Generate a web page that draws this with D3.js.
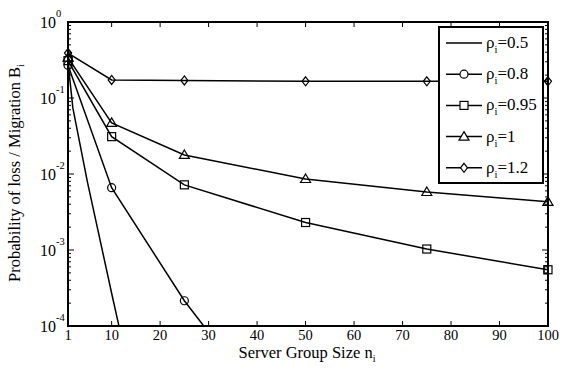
<!DOCTYPE html>
<html>
<head>
<meta charset="utf-8">
<script src="https://cdn.jsdelivr.net/npm/d3@7"></script>
<style>
  body { margin: 0; background: #fff; }
  text { font-family: "Liberation Serif", "Times New Roman", serif; fill: #000; }
</style>
</head>
<body>
<div id="chart"></div>
<script>
// values
var serverSizes = [1, 10, 25, 50, 75, 100];
var rho05X = [1, 2, 5, 10, 15];
var rho05Y = [0.30, 0.074, 0.0079, 0.00027, 0.00001];
var rho08Y = [0.27, 0.0066, 0.000215, 0.0000018];
var rho095Y = [0.31, 0.031, 0.0072, 0.0023, 0.00103, 0.00055];
var rho1Y = [0.34, 0.047, 0.0178, 0.0086, 0.0058, 0.0043];
var rho12Y = [0.39, 0.173, 0.17, 0.166, 0.166, 0.166];
var legendLabels = ["0.5", "0.8", "0.95", "1", "1.2"];
var xTicks = [1, 10, 20, 30, 40, 50, 60, 70, 80, 90, 100];
var yExponents = [0, -1, -2, -3, -4];

var series = [
    { x: rho05X, y: rho05Y, marker: null },
    { x: serverSizes.slice(0, 4), y: rho08Y, marker: "circle" },
    { x: serverSizes, y: rho095Y, marker: "square" },
    { x: serverSizes, y: rho1Y, marker: "triangle" },
    { x: serverSizes, y: rho12Y, marker: "diamond" }
];

var width = 564, height = 368;
var pLeft = 68, pRight = 548, pTop = 22, pBottom = 326;

var svg = d3.select("#chart").append("svg")
    .attr("width", width)
    .attr("height", height);

var x = d3.scaleLinear().domain([1, 100]).range([pLeft, pRight]);
var y = d3.scaleLog().domain([1e-4, 1]).range([pBottom, pTop]);

svg.append("clipPath").attr("id", "clip")
    .append("rect")
    .attr("x", pLeft).attr("y", pTop)
    .attr("width", pRight - pLeft).attr("height", pBottom - pTop);

// ticks (inward, on all four sides)
var minor = [];
for (var e = -4; e < 0; e++) {
    for (var m = 2; m <= 9; m++) minor.push(m * Math.pow(10, e));
}
var tickG = svg.append("g").attr("stroke", "#000").attr("stroke-width", 1);
minor.forEach(function(v) {
    tickG.append("line").attr("x1", pLeft).attr("x2", pLeft + 3).attr("y1", y(v)).attr("y2", y(v));
    tickG.append("line").attr("x1", pRight).attr("x2", pRight - 3).attr("y1", y(v)).attr("y2", y(v));
});
yExponents.forEach(function(e) {
    var v = Math.pow(10, e);
    tickG.append("line").attr("x1", pLeft).attr("x2", pLeft + 6).attr("y1", y(v)).attr("y2", y(v));
    tickG.append("line").attr("x1", pRight).attr("x2", pRight - 6).attr("y1", y(v)).attr("y2", y(v));
});
xTicks.forEach(function(v) {
    tickG.append("line").attr("x1", x(v)).attr("x2", x(v)).attr("y1", pBottom).attr("y2", pBottom - 5);
    tickG.append("line").attr("x1", x(v)).attr("x2", x(v)).attr("y1", pTop).attr("y2", pTop + 5);
});

// tick labels
svg.append("g").selectAll("text").data(xTicks)
    .enter().append("text")
    .attr("x", function(d) { return x(d); })
    .attr("y", 339.5)
    .attr("text-anchor", "middle")
    .attr("font-size", 14.5)
    .text(function(d) { return d; });

var yl = svg.append("g").selectAll("g").data(yExponents).enter().append("g");
yl.append("text")
    .attr("x", 56)
    .attr("y", function(d) { return y(Math.pow(10, d)) + 6; })
    .attr("text-anchor", "end")
    .attr("font-size", 16)
    .text("10");
yl.append("text")
    .attr("x", 56)
    .attr("y", function(d) { return y(Math.pow(10, d)) - 5; })
    .attr("font-size", 10.5)
    .text(function(d) { return d === 0 ? "0" : "-" + (-d); });

// axis labels
var xl = svg.append("text")
    .attr("x", 307).attr("y", 358)
    .attr("text-anchor", "middle")
    .attr("font-size", 16.5);
xl.append("tspan").text("Server Group Size n");
xl.append("tspan").attr("font-size", 10).attr("dy", 4).text("i");

var ylab = svg.append("text")
    .attr("transform", "translate(20,173) rotate(-90)")
    .attr("text-anchor", "middle")
    .attr("font-size", 16.5);
ylab.append("tspan").text("Probability of loss / Migration B");
ylab.append("tspan").attr("font-size", 10).attr("dy", 4).text("i");

// marker drawing
function drawMarker(g, type, cx, cy) {
    if (type === "circle") {
        g.append("circle").attr("cx", cx).attr("cy", cy).attr("r", 4);
    } else if (type === "square") {
        g.append("rect").attr("x", cx - 4).attr("y", cy - 4).attr("width", 8).attr("height", 8);
    } else if (type === "triangle") {
        g.append("path").attr("d", "M" + cx + "," + (cy - 5) + "L" + (cx + 5) + "," + (cy + 3.5) + "L" + (cx - 5) + "," + (cy + 3.5) + "Z");
    } else if (type === "diamond") {
        g.append("path").attr("d", "M" + cx + "," + (cy - 4.5) + "L" + (cx + 3.5) + "," + cy + "L" + cx + "," + (cy + 4.5) + "L" + (cx - 3.5) + "," + cy + "Z");
    }
}

var line = d3.line()
    .x(function(d) { return x(d[0]); })
    .y(function(d) { return y(d[1]); });

var plot = svg.append("g").attr("clip-path", "url(#clip)");
series.forEach(function(s) {
    var pts = s.x.map(function(v, i) { return [v, s.y[i]]; });
    plot.append("path")
        .attr("d", line(pts))
        .attr("fill", "none")
        .attr("stroke", "#000")
        .attr("stroke-width", 1.5);
    if (s.marker) {
        var mg = plot.append("g").attr("fill", "none").attr("stroke", "#000").attr("stroke-width", 1.2);
        pts.forEach(function(p) {
            if (p[1] >= 1e-4) drawMarker(mg, s.marker, x(p[0]), y(p[1]));
        });
    }
});

// markers on the frame edge are not clipped in the original
var edge = svg.append("g").attr("fill", "none").attr("stroke", "#000").attr("stroke-width", 1.2);
series.forEach(function(s) {
    if (!s.marker) return;
    s.x.forEach(function(v, i) {
        if ((v === 1 || v === 100) && s.y[i] >= 1e-4) drawMarker(edge, s.marker, x(v), y(s.y[i]));
    });
});

// frame
svg.append("rect")
    .attr("x", pLeft).attr("y", pTop)
    .attr("width", pRight - pLeft).attr("height", pBottom - pTop)
    .attr("fill", "none").attr("stroke", "#000").attr("stroke-width", 2);

// legend
var lg = svg.append("g");
lg.append("rect")
    .attr("x", 439).attr("y", 27).attr("width", 104).attr("height", 156)
    .attr("fill", "#fff").attr("stroke", "#000").attr("stroke-width", 2);
series.forEach(function(s, i) {
    var ly = 43 + i * 31.2;
    lg.append("line").attr("x1", 446).attr("x2", 482).attr("y1", ly).attr("y2", ly)
        .attr("stroke", "#000").attr("stroke-width", 1.5);
    if (s.marker) {
        var mg = lg.append("g").attr("fill", "#fff").attr("stroke", "#000").attr("stroke-width", 1.2);
        drawMarker(mg, s.marker, 464, ly);
    }
    var t = lg.append("text").attr("x", 486).attr("y", ly + 5).attr("font-size", 17);
    t.append("tspan").text("ρ");
    t.append("tspan").attr("font-size", 10.5).attr("dy", 5).text("i");
    t.append("tspan").attr("dy", -5).text("=" + legendLabels[i]);
});
</script>
</body>
</html>
